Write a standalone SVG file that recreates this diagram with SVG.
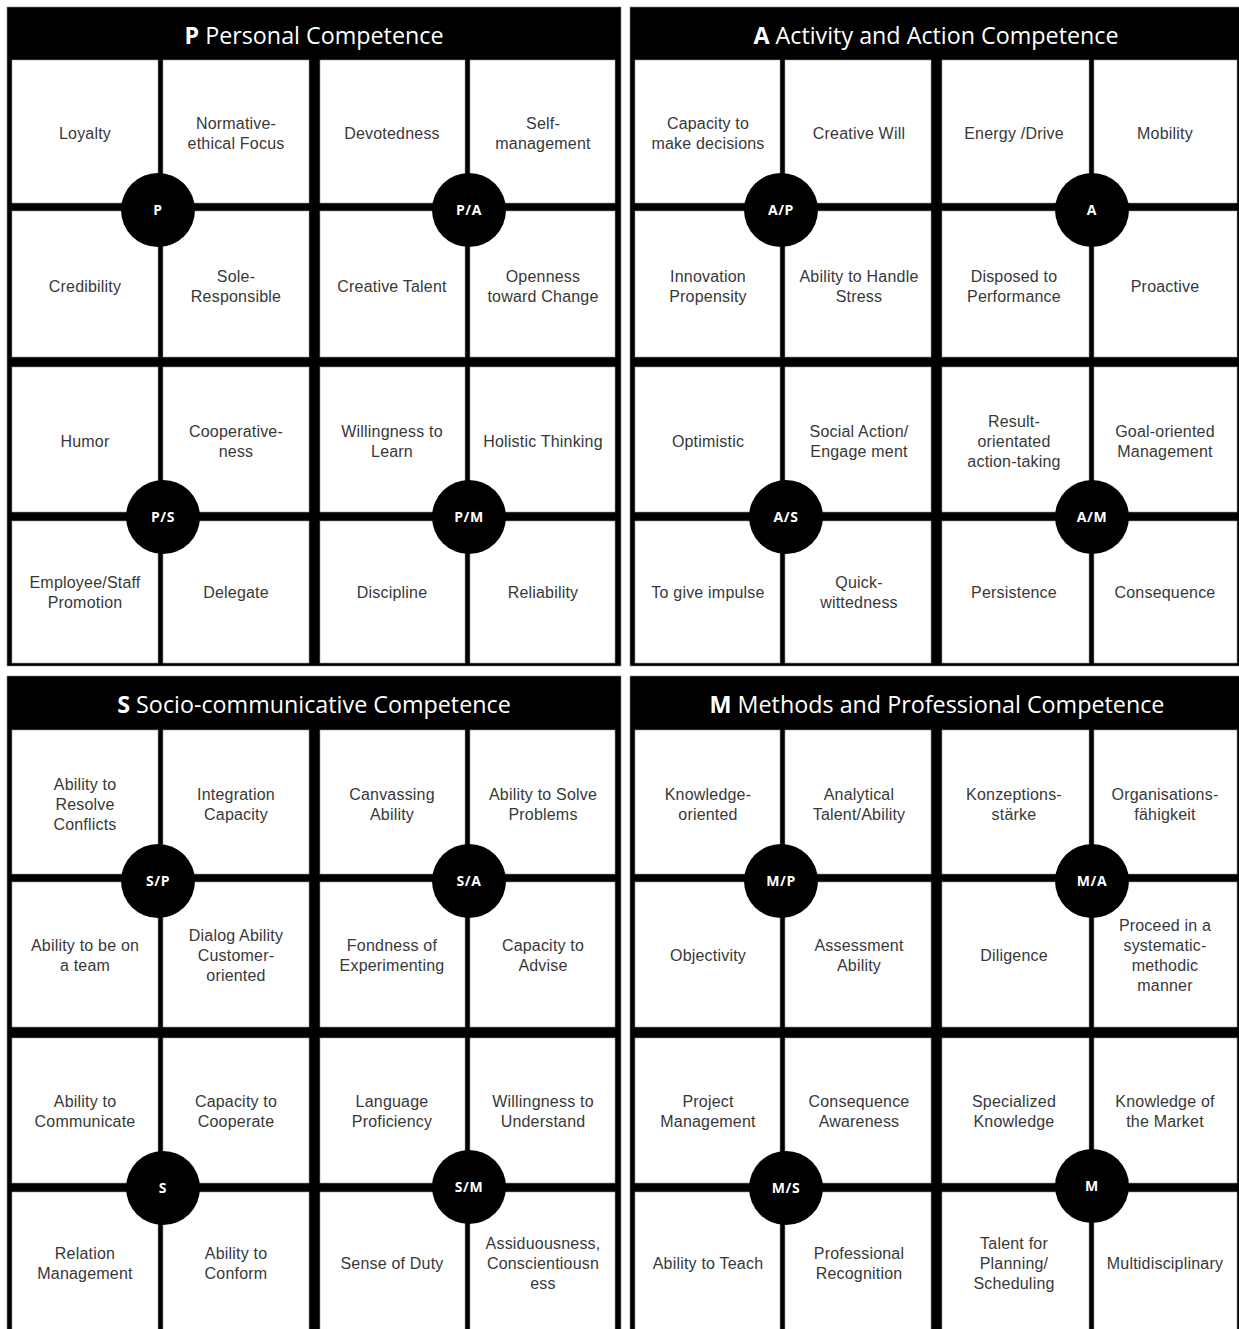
<svg xmlns="http://www.w3.org/2000/svg" width="1239" height="1329" viewBox="0 0 1239 1329">
<style>
.q{fill:#000;stroke:#888;stroke-width:0.6}
.c{fill:#fff;stroke:#9a9a9a;stroke-width:0.6}
.t{font-family:"Liberation Sans",Arial,sans-serif;font-size:16px;fill:#383838;text-anchor:middle;letter-spacing:0.2px}
.h{font-family:"Open Sans","Noto Sans",sans-serif;font-size:23.3px;fill:#fff;text-anchor:middle}
.hb{font-weight:bold}
.dot{fill:#000}
.dl{font-family:"Open Sans","Noto Sans",sans-serif;font-size:14px;font-weight:bold;fill:#fff;text-anchor:middle;letter-spacing:0.6px}
</style>
<rect width="1239" height="1329" fill="#fff"/>

<!-- Quadrant P -->
<g id="quadrant-P">
<rect class="q" x="7" y="7" width="614" height="659"/>
<text class="h" x="314" y="44"><tspan class="hb">P</tspan> Personal Competence</text>
<g id="cell-loyalty"><rect class="c" x="12" y="60" width="146" height="143"/><text class="t" x="85" y="139">Loyalty</text></g>
<g id="cell-normative"><rect class="c" x="163" y="60" width="146" height="143"/><text class="t" x="236" y="129">Normative-<tspan x="236" dy="20">ethical Focus</tspan></text></g>
<g id="cell-credibility"><rect class="c" x="12" y="211" width="146" height="146"/><text class="t" x="85" y="292">Credibility</text></g>
<g id="cell-sole"><rect class="c" x="163" y="211" width="146" height="146"/><text class="t" x="236" y="282">Sole-<tspan x="236" dy="20">Responsible</tspan></text></g>
<g id="cell-devotedness"><rect class="c" x="320" y="60" width="145" height="143"/><text class="t" x="392" y="139">Devotedness</text></g>
<g id="cell-selfmanagement"><rect class="c" x="470" y="60" width="145" height="143"/><text class="t" x="543" y="129">Self-<tspan x="543" dy="20">management</tspan></text></g>
<g id="cell-creativetalent"><rect class="c" x="320" y="211" width="145" height="146"/><text class="t" x="392" y="292">Creative Talent</text></g>
<g id="cell-openness"><rect class="c" x="470" y="211" width="145" height="146"/><text class="t" x="543" y="282">Openness<tspan x="543" dy="20">toward Change</tspan></text></g>
<g id="cell-humor"><rect class="c" x="12" y="367" width="146" height="145"/><text class="t" x="85" y="447">Humor</text></g>
<g id="cell-cooperativeness"><rect class="c" x="163" y="367" width="146" height="145"/><text class="t" x="236" y="437">Cooperative-<tspan x="236" dy="20">ness</tspan></text></g>
<g id="cell-employee"><rect class="c" x="12" y="521" width="146" height="142"/><text class="t" x="85" y="588">Employee/Staff<tspan x="85" dy="20">Promotion</tspan></text></g>
<g id="cell-delegate"><rect class="c" x="163" y="521" width="146" height="142"/><text class="t" x="236" y="598">Delegate</text></g>
<g id="cell-willingness-learn"><rect class="c" x="320" y="367" width="145" height="145"/><text class="t" x="392" y="437">Willingness to<tspan x="392" dy="20">Learn</tspan></text></g>
<g id="cell-holistic"><rect class="c" x="470" y="367" width="145" height="145"/><text class="t" x="543" y="447">Holistic Thinking</text></g>
<g id="cell-discipline"><rect class="c" x="320" y="521" width="145" height="142"/><text class="t" x="392" y="598">Discipline</text></g>
<g id="cell-reliability"><rect class="c" x="470" y="521" width="145" height="142"/><text class="t" x="543" y="598">Reliability</text></g>
</g>

<!-- Quadrant A -->
<g id="quadrant-A">
<rect class="q" x="630" y="7" width="615" height="659"/>
<text class="h" x="936" y="44"><tspan class="hb">A</tspan> Activity and Action Competence</text>
<g id="cell-capacity-decisions"><rect class="c" x="635" y="60" width="145" height="143"/><text class="t" x="708" y="129">Capacity to<tspan x="708" dy="20">make decisions</tspan></text></g>
<g id="cell-creativewill"><rect class="c" x="785" y="60" width="146" height="143"/><text class="t" x="859" y="139">Creative Will</text></g>
<g id="cell-energy"><rect class="c" x="942" y="60" width="147" height="143"/><text class="t" x="1014" y="139">Energy /Drive</text></g>
<g id="cell-mobility"><rect class="c" x="1094" y="60" width="143" height="143"/><text class="t" x="1165" y="139">Mobility</text></g>
<g id="cell-innovation"><rect class="c" x="635" y="211" width="145" height="146"/><text class="t" x="708" y="282">Innovation<tspan x="708" dy="20">Propensity</tspan></text></g>
<g id="cell-stress"><rect class="c" x="785" y="211" width="146" height="146"/><text class="t" x="859" y="282">Ability to Handle<tspan x="859" dy="20">Stress</tspan></text></g>
<g id="cell-performance"><rect class="c" x="942" y="211" width="147" height="146"/><text class="t" x="1014" y="282">Disposed to<tspan x="1014" dy="20">Performance</tspan></text></g>
<g id="cell-proactive"><rect class="c" x="1094" y="211" width="143" height="146"/><text class="t" x="1165" y="292">Proactive</text></g>
<g id="cell-optimistic"><rect class="c" x="635" y="367" width="145" height="145"/><text class="t" x="708" y="447">Optimistic</text></g>
<g id="cell-socialaction"><rect class="c" x="785" y="367" width="146" height="145"/><text class="t" x="859" y="437">Social Action/<tspan x="859" dy="20">Engage ment</tspan></text></g>
<g id="cell-result"><rect class="c" x="942" y="367" width="147" height="145"/><text class="t" x="1014" y="427">Result-<tspan x="1014" dy="20">orientated</tspan><tspan x="1014" dy="20">action-taking</tspan></text></g>
<g id="cell-goal"><rect class="c" x="1094" y="367" width="143" height="145"/><text class="t" x="1165" y="437">Goal-oriented<tspan x="1165" dy="20">Management</tspan></text></g>
<g id="cell-impulse"><rect class="c" x="635" y="521" width="145" height="142"/><text class="t" x="708" y="598">To give impulse</text></g>
<g id="cell-quick"><rect class="c" x="785" y="521" width="146" height="142"/><text class="t" x="859" y="588">Quick-<tspan x="859" dy="20">wittedness</tspan></text></g>
<g id="cell-persistence"><rect class="c" x="942" y="521" width="147" height="142"/><text class="t" x="1014" y="598">Persistence</text></g>
<g id="cell-consequence"><rect class="c" x="1094" y="521" width="143" height="142"/><text class="t" x="1165" y="598">Consequence</text></g>
</g>

<!-- Quadrant S -->
<g id="quadrant-S">
<rect class="q" x="7" y="676" width="614" height="670"/>
<text class="h" x="314" y="713"><tspan class="hb">S</tspan> Socio-communicative Competence</text>
<g id="cell-resolve"><rect class="c" x="12" y="730" width="146" height="144"/><text class="t" x="85" y="790">Ability to<tspan x="85" dy="20">Resolve</tspan><tspan x="85" dy="20">Conflicts</tspan></text></g>
<g id="cell-integration"><rect class="c" x="163" y="730" width="146" height="144"/><text class="t" x="236" y="800">Integration<tspan x="236" dy="20">Capacity</tspan></text></g>
<g id="cell-team"><rect class="c" x="12" y="882" width="146" height="145"/><text class="t" x="85" y="951">Ability to be on<tspan x="85" dy="20">a team</tspan></text></g>
<g id="cell-dialog"><rect class="c" x="163" y="882" width="146" height="145"/><text class="t" x="236" y="941">Dialog Ability<tspan x="236" dy="20">Customer-</tspan><tspan x="236" dy="20">oriented</tspan></text></g>
<g id="cell-canvassing"><rect class="c" x="320" y="730" width="145" height="144"/><text class="t" x="392" y="800">Canvassing<tspan x="392" dy="20">Ability</tspan></text></g>
<g id="cell-solve"><rect class="c" x="470" y="730" width="145" height="144"/><text class="t" x="543" y="800">Ability to Solve<tspan x="543" dy="20">Problems</tspan></text></g>
<g id="cell-fondness"><rect class="c" x="320" y="882" width="145" height="145"/><text class="t" x="392" y="951">Fondness of<tspan x="392" dy="20">Experimenting</tspan></text></g>
<g id="cell-advise"><rect class="c" x="470" y="882" width="145" height="145"/><text class="t" x="543" y="951">Capacity to<tspan x="543" dy="20">Advise</tspan></text></g>
<g id="cell-communicate"><rect class="c" x="12" y="1038" width="146" height="145"/><text class="t" x="85" y="1107">Ability to<tspan x="85" dy="20">Communicate</tspan></text></g>
<g id="cell-cooperate"><rect class="c" x="163" y="1038" width="146" height="145"/><text class="t" x="236" y="1107">Capacity to<tspan x="236" dy="20">Cooperate</tspan></text></g>
<g id="cell-relation"><rect class="c" x="12" y="1192" width="146" height="150"/><text class="t" x="85" y="1259">Relation<tspan x="85" dy="20">Management</tspan></text></g>
<g id="cell-conform"><rect class="c" x="163" y="1192" width="146" height="150"/><text class="t" x="236" y="1259">Ability to<tspan x="236" dy="20">Conform</tspan></text></g>
<g id="cell-language"><rect class="c" x="320" y="1038" width="145" height="145"/><text class="t" x="392" y="1107">Language<tspan x="392" dy="20">Proficiency</tspan></text></g>
<g id="cell-understand"><rect class="c" x="470" y="1038" width="145" height="145"/><text class="t" x="543" y="1107">Willingness to<tspan x="543" dy="20">Understand</tspan></text></g>
<g id="cell-duty"><rect class="c" x="320" y="1192" width="145" height="150"/><text class="t" x="392" y="1269">Sense of Duty</text></g>
<g id="cell-assiduousness"><rect class="c" x="470" y="1192" width="145" height="150"/><text class="t" x="543" y="1249">Assiduousness,<tspan x="543" dy="20">Conscientiousn</tspan><tspan x="543" dy="20">ess</tspan></text></g>
</g>

<!-- Quadrant M -->
<g id="quadrant-M">
<rect class="q" x="630" y="676" width="615" height="670"/>
<text class="h" x="937" y="713"><tspan class="hb">M</tspan> Methods and Professional Competence</text>
<g id="cell-knowledge-oriented"><rect class="c" x="635" y="730" width="145" height="144"/><text class="t" x="708" y="800">Knowledge-<tspan x="708" dy="20">oriented</tspan></text></g>
<g id="cell-analytical"><rect class="c" x="785" y="730" width="146" height="144"/><text class="t" x="859" y="800">Analytical<tspan x="859" dy="20">Talent/Ability</tspan></text></g>
<g id="cell-konzeption"><rect class="c" x="942" y="730" width="147" height="144"/><text class="t" x="1014" y="800">Konzeptions-<tspan x="1014" dy="20">stärke</tspan></text></g>
<g id="cell-organisation"><rect class="c" x="1094" y="730" width="143" height="144"/><text class="t" x="1165" y="800">Organisations-<tspan x="1165" dy="20">fähigkeit</tspan></text></g>
<g id="cell-objectivity"><rect class="c" x="635" y="882" width="145" height="145"/><text class="t" x="708" y="961">Objectivity</text></g>
<g id="cell-assessment"><rect class="c" x="785" y="882" width="146" height="145"/><text class="t" x="859" y="951">Assessment<tspan x="859" dy="20">Ability</tspan></text></g>
<g id="cell-diligence"><rect class="c" x="942" y="882" width="147" height="145"/><text class="t" x="1014" y="961">Diligence</text></g>
<g id="cell-proceed"><rect class="c" x="1094" y="882" width="143" height="145"/><text class="t" x="1165" y="931">Proceed in a<tspan x="1165" dy="20">systematic-</tspan><tspan x="1165" dy="20">methodic</tspan><tspan x="1165" dy="20">manner</tspan></text></g>
<g id="cell-project"><rect class="c" x="635" y="1038" width="145" height="145"/><text class="t" x="708" y="1107">Project<tspan x="708" dy="20">Management</tspan></text></g>
<g id="cell-consequence-awareness"><rect class="c" x="785" y="1038" width="146" height="145"/><text class="t" x="859" y="1107">Consequence<tspan x="859" dy="20">Awareness</tspan></text></g>
<g id="cell-specialized"><rect class="c" x="942" y="1038" width="147" height="145"/><text class="t" x="1014" y="1107">Specialized<tspan x="1014" dy="20">Knowledge</tspan></text></g>
<g id="cell-market"><rect class="c" x="1094" y="1038" width="143" height="145"/><text class="t" x="1165" y="1107">Knowledge of<tspan x="1165" dy="20">the Market</tspan></text></g>
<g id="cell-teach"><rect class="c" x="635" y="1192" width="145" height="150"/><text class="t" x="708" y="1269">Ability to Teach</text></g>
<g id="cell-recognition"><rect class="c" x="785" y="1192" width="146" height="150"/><text class="t" x="859" y="1259">Professional<tspan x="859" dy="20">Recognition</tspan></text></g>
<g id="cell-planning"><rect class="c" x="942" y="1192" width="147" height="150"/><text class="t" x="1014" y="1249">Talent for<tspan x="1014" dy="20">Planning/</tspan><tspan x="1014" dy="20">Scheduling</tspan></text></g>
<g id="cell-multidisciplinary"><rect class="c" x="1094" y="1192" width="143" height="150"/><text class="t" x="1165" y="1269">Multidisciplinary</text></g>
</g>

<!-- Hub circles -->
<g id="hub-P"><circle class="dot" cx="158" cy="210" r="37"/><text class="dl" x="158" y="215">P</text></g>
<g id="hub-PA"><circle class="dot" cx="469" cy="210" r="37"/><text class="dl" x="469" y="215">P/A</text></g>
<g id="hub-PS"><circle class="dot" cx="163" cy="517" r="37"/><text class="dl" x="163" y="522">P/S</text></g>
<g id="hub-PM"><circle class="dot" cx="469" cy="517" r="37"/><text class="dl" x="469" y="522">P/M</text></g>
<g id="hub-AP"><circle class="dot" cx="781" cy="210" r="37"/><text class="dl" x="781" y="215">A/P</text></g>
<g id="hub-A"><circle class="dot" cx="1092" cy="210" r="37"/><text class="dl" x="1092" y="215">A</text></g>
<g id="hub-AS"><circle class="dot" cx="786" cy="517" r="37"/><text class="dl" x="786" y="522">A/S</text></g>
<g id="hub-AM"><circle class="dot" cx="1092" cy="517" r="37"/><text class="dl" x="1092" y="522">A/M</text></g>
<g id="hub-SP"><circle class="dot" cx="158" cy="881" r="37"/><text class="dl" x="158" y="886">S/P</text></g>
<g id="hub-SA"><circle class="dot" cx="469" cy="881" r="37"/><text class="dl" x="469" y="886">S/A</text></g>
<g id="hub-S"><circle class="dot" cx="163" cy="1188" r="37"/><text class="dl" x="163" y="1193">S</text></g>
<g id="hub-SM"><circle class="dot" cx="469" cy="1187" r="37"/><text class="dl" x="469" y="1192">S/M</text></g>
<g id="hub-MP"><circle class="dot" cx="781" cy="881" r="37"/><text class="dl" x="781" y="886">M/P</text></g>
<g id="hub-MA"><circle class="dot" cx="1092" cy="881" r="37"/><text class="dl" x="1092" y="886">M/A</text></g>
<g id="hub-MS"><circle class="dot" cx="786" cy="1188" r="37"/><text class="dl" x="786" y="1193">M/S</text></g>
<g id="hub-M"><circle class="dot" cx="1092" cy="1186" r="37"/><text class="dl" x="1092" y="1191">M</text></g>
</svg>
